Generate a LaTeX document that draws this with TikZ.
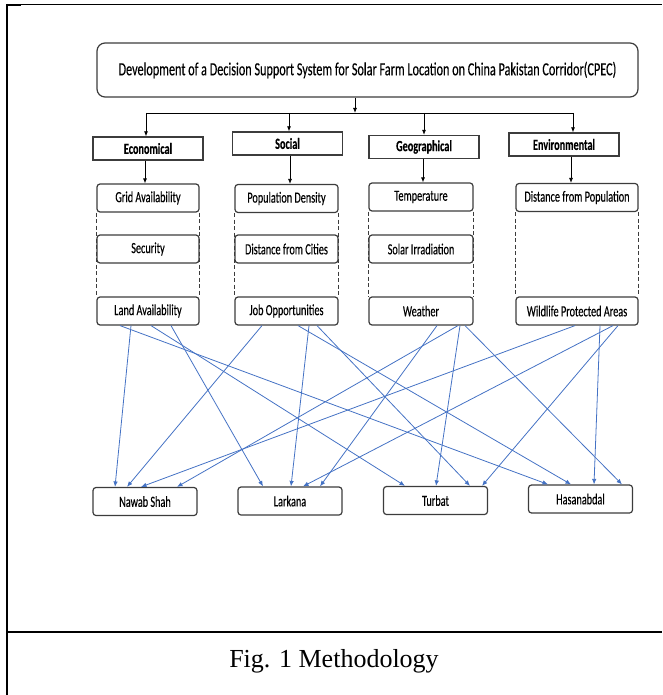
\documentclass[tikz,border=0pt]{standalone}
\usepackage{fontspec}
\usepackage{xcolor}
\usepackage{tikz}
\usetikzlibrary{positioning,calc,arrows.meta}

\newfontfamily\diagfont{Carlito}[FakeStretch=0.66, FakeBold=0.25]
\newfontfamily\capfont{Liberation Serif}

\definecolor{linkblue}{RGB}{68,114,196}
\definecolor{boxgray}{RGB}{60,60,60}

\tikzset{
    titlebox/.style={draw=boxgray, line width=1.2pt, rounded corners=8pt, minimum width=541pt, minimum height=54pt, inner sep=0pt, font=\diagfont\fontsize{18.5}{20}\selectfont},
    catbox/.style={draw=boxgray, line width=1.3pt, minimum width=110pt, minimum height=23pt, inner sep=0pt, font=\diagfont\bfseries\fontsize{15.5}{17}\selectfont},
    itembox/.style={draw=boxgray, fill=white, line width=1.2pt, rounded corners=3pt, minimum height=28pt, inner sep=0pt, font=\diagfont\fontsize{15.5}{17}\selectfont},
    citybox/.style={itembox, minimum width=104pt},
    arr/.style={-{Latex[length=5pt,width=4pt]}, line width=0.8pt},
    link/.style={-{Latex[length=5.5pt,width=4.5pt]}, linkblue, line width=0.8pt},
    side/.style={boxgray, line width=0.8pt, dash pattern=on 4pt off 2.5pt}
}

\begin{document}
\begin{tikzpicture}[x=1pt,y=-1pt]
    \useasboundingbox (0,0) rectangle (662,695);

    % Frame and caption
    \draw[line width=2pt] (7,4) -- (7,695);
    \draw[line width=0.8pt] (7,4.5) -- (662,4.5);
    \draw[line width=2pt] (6,5.5) -- (21,5.5);
    \draw[line width=2.2pt] (7,632) -- (662,632);
    \node[font=\capfont\fontsize{26}{29}\selectfont] (caption) at (334,661) {Fig. 1 Methodology};

    % Title
    \node[titlebox] (title) at (367.5,70) {Development of a Decision Support System for Solar Farm Location on China Pakistan Corridor(CPEC)};

    % Criteria
    \node[catbox] (econ) at (148,148.5) {Economical};
    \node[catbox] (soc) at (287.5,143.5) {Social};
    \node[catbox] (geo) at (424,147) {Geographical};
    \node[catbox] (env) at (564,144.5) {Environmental};

    % Split from the title
    \coordinate (split) at (355,113);
    \draw[arr] (title.south -| split) -- (split);
    \foreach \c/\x in {econ/146, soc/289, geo/424, env/573} {
        \coordinate (bus-\c) at (\x,113);
        \draw[arr] (bus-\c) -- (bus-\c |- \c.north);
    }
    \draw[line width=0.8pt] (bus-econ) -- (bus-env);

    % Sub-criteria
    \node[itembox, minimum width=102pt] (grid) at (148,198) {Grid Availability};
    \node[itembox, minimum width=102pt] (security) at (148,249) {Security};
    \node[itembox, minimum width=102pt] (land) at (148,311) {Land Availability};

    \node[itembox, minimum width=103pt] (popd) at (286.5,198.5) {Population Density};
    \node[itembox, minimum width=103pt] (cities) at (286.5,249) {Distance from Cities};
    \node[itembox, minimum width=103pt] (job) at (286.5,311) {Job Opportunities};

    \node[itembox, minimum width=104pt] (temp) at (421,197) {Temperature};
    \node[itembox, minimum width=104pt] (solar) at (421,249) {Solar Irradiation};
    \node[itembox, minimum width=104pt] (weather) at (421,311) {Weather};

    \node[itembox, minimum width=122pt] (distpop) at (577,197.5) {Distance from Population};
    \node[itembox, minimum width=122pt] (wildlife) at (577,311) {Wildlife Protected Areas};

    \draw[arr] ([xshift=-3pt]econ.south) -- ([xshift=-3pt]grid.north);
    \draw[arr] ([xshift=2.5pt]soc.south) -- ([xshift=3.5pt]popd.north);
    \draw[arr] ([xshift=-1pt]geo.south) -- ([xshift=2pt]temp.north);
    \draw[arr] ([xshift=7pt]env.south) -- ([xshift=-6pt]distpop.north);

    % Dashed sides of each column
    \foreach \a/\b in {grid/land, popd/job, temp/weather, distpop/wildlife} {
        \draw[side] (\a.south west) -- (\b.north west);
        \draw[side] (\a.south east) -- (\b.north east);
    }

    % Locations
    \node[citybox] (nawab) at (145,501.5) {Nawab Shah};
    \node[citybox] (larkana) at (290,501) {Larkana};
    \node[citybox] (turbat) at (435.5,500.5) {Turbat};
    \node[citybox] (hasan) at (580.5,499) {Hasanabdal};

    % Links
    \foreach \s/\ds/\t/\dt in {
        land/-17/nawab/-30, land/23/larkana/-27, land/3/turbat/-30.5, land/-28/hasan/-32.5,
        job/-24.5/nawab/-18, job/22.5/larkana/1, job/30.5/turbat/34.5, job/11.5/hasan/-9.5,
        weather/37/nawab/32, weather/16/larkana/30, weather/39/turbat/0.5, weather/44/hasan/41.5,
        wildlife/-2/nawab/-4, wildlife/36/larkana/13, wildlife/41/turbat/46.5, wildlife/23/hasan/13.5}
        \draw[link] ([xshift=\ds pt]\s.south) -- ([xshift=\dt pt]\t.north);
\end{tikzpicture}
\end{document}
